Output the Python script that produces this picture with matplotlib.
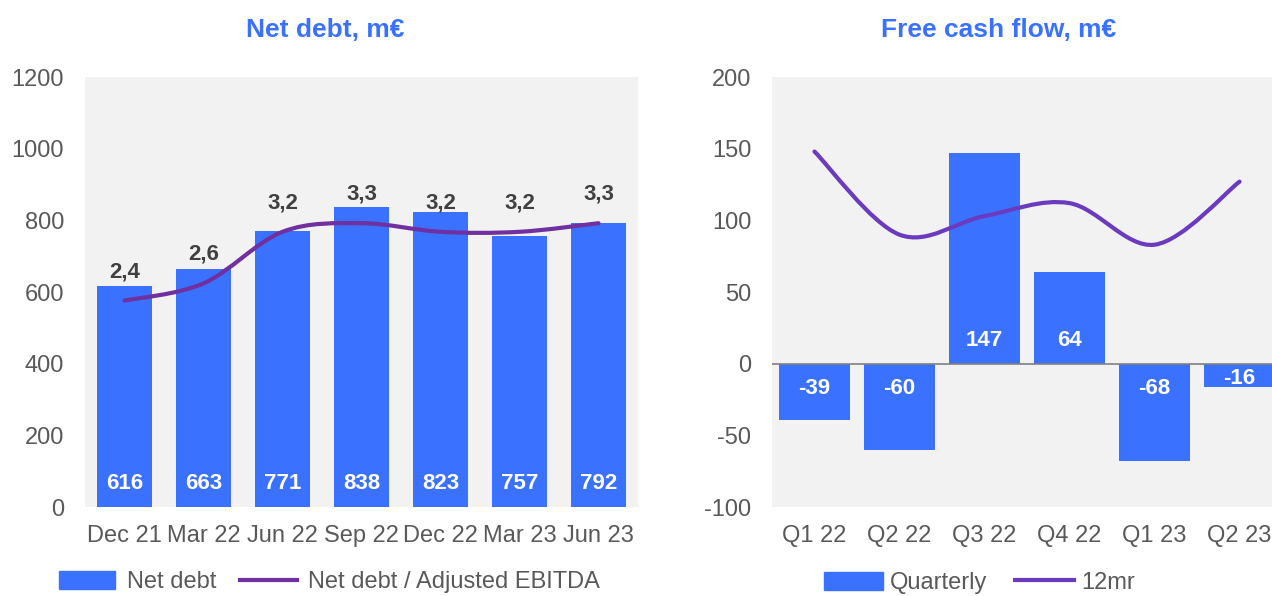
import numpy as np
import matplotlib.pyplot as plt
from matplotlib.path import Path
from matplotlib.patches import PathPatch, Patch
from matplotlib.lines import Line2D

plt.rcParams['font.family'] = ['Liberation Sans', 'DejaVu Sans']
plt.rcParams['axes.unicode_minus'] = False

# --- DADES --- #
mesos = ['Dec 21', 'Mar 22', 'Jun 22', 'Sep 22', 'Dec 22', 'Mar 23', 'Jun 23']
deute_net = [616, 663, 771, 838, 823, 757, 792]
ratio_ebitda = [2.4, 2.6, 3.2, 3.3, 3.2, 3.2, 3.3]
ratio_etiq = ['2,4', '2,6', '3,2', '3,3', '3,2', '3,2', '3,3']

trimestres = ['Q1 22', 'Q2 22', 'Q3 22', 'Q4 22', 'Q1 23', 'Q2 23']
fcf_trim = [-39, -60, 147, 64, -68, -16]
fcf_12m = [148, 90, 103, 112, 83, 127]

# --- ESTIL --- #
blau = '#3A72FF'
lila_1 = '#7030A0'
lila_2 = '#6A3BBE'
gris_fons = '#F2F2F2'
gris_text = '#595959'


def corba_suau(ax, x, y, color, lw):
    '''Dibuixa una línia suavitzada (Bezier tipus Excel)'''
    x = np.asarray(x, float)
    y = np.asarray(y, float)
    n = len(x)
    verts = [(x[0], y[0])]
    codes = [Path.MOVETO]
    for i in range(n - 1):
        p0 = (x[max(i - 1, 0)], y[max(i - 1, 0)])
        p1 = (x[i], y[i])
        p2 = (x[i + 1], y[i + 1])
        p3 = (x[min(i + 2, n - 1)], y[min(i + 2, n - 1)])
        c1 = (p1[0] + (p2[0] - p0[0]) / 6, p1[1] + (p2[1] - p0[1]) / 6)
        c2 = (p2[0] - (p3[0] - p1[0]) / 6, p2[1] - (p3[1] - p1[1]) / 6)
        verts += [c1, c2, p2]
        codes += [Path.CURVE4] * 3
    ax.add_patch(PathPatch(Path(verts, codes), facecolor='none', edgecolor=color,
                           lw=lw, capstyle='round', zorder=3))


def estil_eix(ax):
    ax.set_facecolor(gris_fons)
    for s in ax.spines.values():
        s.set_visible(False)
    ax.tick_params(axis='both', length=0, labelsize=17, colors=gris_text)
    ax.tick_params(axis='y', pad=15)
    ax.tick_params(axis='x', pad=13)


fig = plt.figure(figsize=(12.72, 5.96), dpi=100)

# --- Deute net --- #
ax1 = fig.add_axes([0.0668, 0.1493, 0.4348, 0.7215])
x1 = np.arange(len(mesos))
ax1.bar(x1, deute_net, width=0.7, color=blau, zorder=2)
ax1.set_xlim(-0.5, len(mesos) - 0.5)
ax1.set_ylim(0, 1200)
ax1.set_yticks(range(0, 1201, 200))
ax1.set_xticks(x1, mesos)
estil_eix(ax1)
for xi, v in zip(x1, deute_net):
    ax1.text(xi, 65, str(v), ha='center', va='center', color='white',
             fontsize=16, fontweight='bold', zorder=4)

ax1b = ax1.twinx()
ax1b.set_ylim(0, 5)
ax1b.axis('off')
corba_suau(ax1b, x1, ratio_ebitda, lila_1, 3)
for xi, v, t in zip(x1, ratio_ebitda, ratio_etiq):
    ax1b.annotate(t, (xi, v), xytext=(0, 29), textcoords='offset pixels',
                  ha='center', va='center', color='#404040', fontsize=16,
                  fontweight='bold')

fig.text(0.2555, 0.95, 'Net debt, m€', ha='center', va='center', color=blau,
         fontsize=19, fontweight='bold')
fig.legend(handles=[Patch(color=blau, label='Net debt'),
                    Line2D([], [], color=lila_1, lw=3, label='Net debt / Adjusted EBITDA')],
           loc='center', bbox_to_anchor=(0.259, 0.023), ncol=2, frameon=False,
           fontsize=17, labelcolor=gris_text, handlelength=2.4, handleheight=0.8,
           handletextpad=0.5, columnspacing=1.0)

# --- Free cash flow --- #
ax2 = fig.add_axes([0.6069, 0.1493, 0.401, 0.7215])
x2 = np.arange(len(trimestres))
ax2.bar(x2, fcf_trim, width=0.84, color=blau, zorder=2)
ax2.axhline(0, color='#808080', lw=1.2, zorder=3)
corba_suau(ax2, x2, fcf_12m, lila_2, 3)
ax2.set_xlim(-0.5, len(trimestres) - 0.5)
ax2.set_ylim(-100, 200)
ax2.set_yticks(range(-100, 201, 50))
ax2.set_xticks(x2, trimestres)
estil_eix(ax2)
for xi, v in zip(x2, fcf_trim):
    off = 16 if v > 0 else -17
    if abs(v) < 20:
        off = -10
    ax2.text(xi, off, str(v), ha='center', va='center', color='white',
             fontsize=16, fontweight='bold', zorder=4)

fig.text(0.785, 0.95, 'Free cash flow, m€', ha='center', va='center', color=blau,
         fontsize=19, fontweight='bold')
fig.legend(handles=[Patch(color=blau, label='Quarterly'),
                    Line2D([], [], color=lila_2, lw=3, label='12mr')],
           loc='center', bbox_to_anchor=(0.77, 0.022), ncol=2, frameon=False,
           fontsize=17, labelcolor=gris_text, handlelength=2.5, handleheight=0.8,
           handletextpad=0.3, columnspacing=1.2)

plt.savefig('out.png', dpi=100)
